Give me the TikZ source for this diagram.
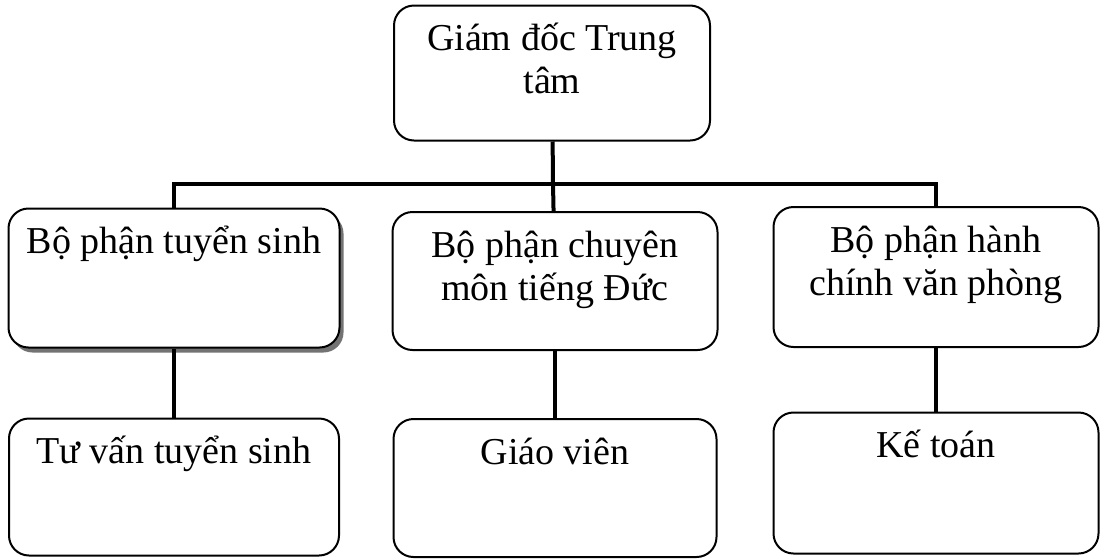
\documentclass[tikz,border=0pt]{standalone}
\usepackage{fontspec}
\setmainfont{Liberation Serif}
\usetikzlibrary{shadows}
\tikzset{
	unit/.style = {draw, line width=1pt, rounded corners=10pt, inner sep=0pt, fill=white, font=\fontsize{19}{21.5}\selectfont},
	link/.style = {line width=2pt},
}
% text sits at the top of each box
\newcommand{\unittext}[3]{\parbox[c][#2][t]{#1}{\centering\rule{0pt}{22.5pt}#3}}

\begin{document}
\begin{tikzpicture}[x=0.5pt, y=-0.5pt]
			\useasboundingbox (0,0) rectangle (1102,558);
			\node (T) [unit] at (552,73) {\unittext{158pt}{67.5pt}{Giám đốc Trung\\tâm}};
			\node (M1) [unit, drop shadow={shadow xshift=2pt, shadow yshift=-2.5pt, fill=black!55, opacity=1}] at (174,278) {\unittext{165.5pt}{69.5pt}{Bộ phận tuyển sinh}};
			\node (M2) [unit] at (555,281) {\unittext{162.5pt}{69pt}{Bộ phận chuyên\\môn tiếng Đức}};
			\node (M3) [unit] at (936,277) {\unittext{162.5pt}{70pt}{Bộ phận hành\\chính văn phòng}};
			\node (B1) [unit] at (174,487) {\unittext{165pt}{68.5pt}{Tư vấn tuyển sinh}};
			\node (B2) [unit] at (555,488) {\unittext{161.5pt}{69pt}{Giáo viên}};
			\node (B3) [unit] at (936,483) {\unittext{162.5pt}{70.5pt}{Kế toán}};
			\coordinate (J) at (553,184);
			\coordinate (JL) at (174,184);
			\coordinate (JR) at (936,184);
			\draw[link] (M1.north) -- (JL) -- (JR) -- (M3.north);
			\path[link] (T) edge (J)
			(J) edge (M2)
			(M1) edge (B1)
			(M2) edge (B2)
			(M3) edge (B3);
		\end{tikzpicture}
\end{document}
